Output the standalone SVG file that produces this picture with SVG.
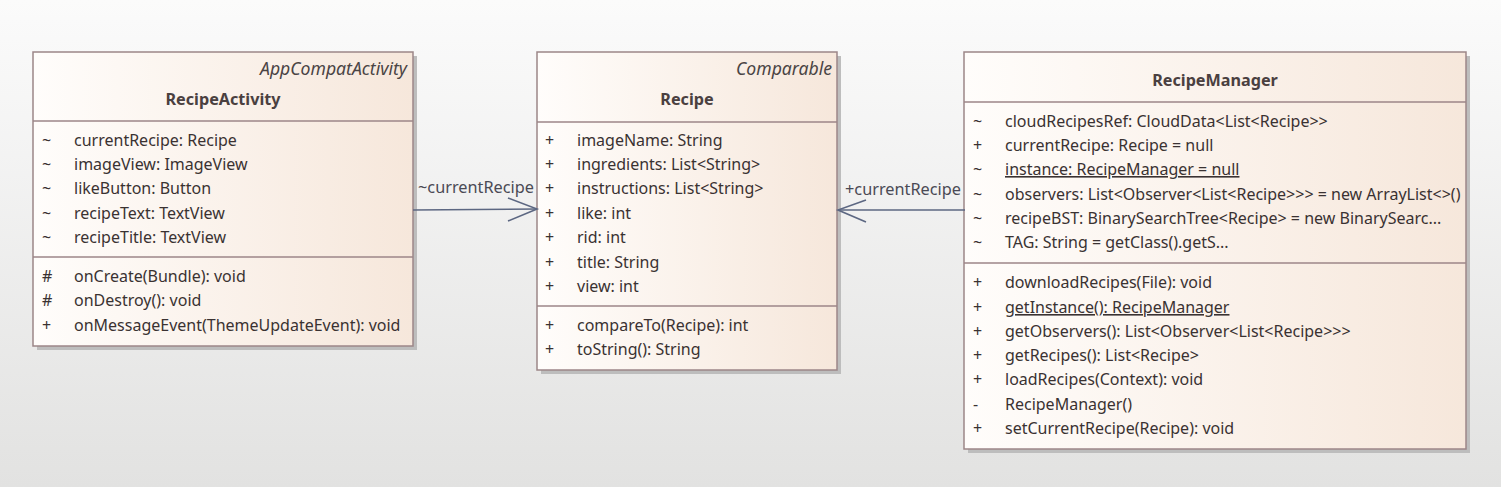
<svg xmlns="http://www.w3.org/2000/svg" width="1501" height="487" viewBox="0 0 1501 487">
<defs>
<linearGradient id="bg" x1="0" y1="0" x2="0" y2="1">
<stop offset="0" stop-color="#fbfbfb"/>
<stop offset="1" stop-color="#e2e2e1"/>
</linearGradient>
<linearGradient id="box" x1="0" y1="0" x2="1" y2="0">
<stop offset="0" stop-color="#fffdfb"/>
<stop offset="1" stop-color="#f6e7db"/>
</linearGradient>
</defs>
<style>
text{font-family:"Noto Sans","Open Sans",sans-serif;font-size:16px;fill:#3a3232}
.ital{font-style:italic;text-anchor:end;fill:#4a4444;font-size:17.6px}
.name{font-weight:bold;text-anchor:middle;fill:#4a4040;font-size:16.2px}
.frame{fill:url(#box);stroke:#9c8688;stroke-width:1.5}
.shadow{fill:#bdbdbd}
.sep{stroke:#9c8688;stroke-width:1.5}
.conn{stroke:#5c6782;stroke-width:1.6;fill:none}
.lbl{fill:#4a4a55;font-size:16.3px}
.u{text-decoration:underline}
</style>
<rect x="0" y="0" width="1501" height="487" fill="url(#bg)"/>

<g id="RecipeActivity">
<rect class="shadow" x="37" y="56" width="380" height="294"/>
<rect class="frame" x="33" y="52" width="380" height="294"/>
<line class="sep" x1="33" y1="121" x2="413" y2="121"/>
<line class="sep" x1="33" y1="257" x2="413" y2="257"/>
<text class="ital" x="407" y="75">AppCompatActivity</text>
<text class="name" x="223" y="105">RecipeActivity</text>
<text x="42" y="146">~</text><text x="74" y="146">currentRecipe: Recipe</text>
<text x="42" y="170">~</text><text x="74" y="170">imageView: ImageView</text>
<text x="42" y="194">~</text><text x="74" y="194">likeButton: Button</text>
<text x="42" y="219">~</text><text x="74" y="219">recipeText: TextView</text>
<text x="42" y="243">~</text><text x="74" y="243">recipeTitle: TextView</text>
<text x="42" y="282">#</text><text x="74" y="282">onCreate(Bundle): void</text>
<text x="42" y="306">#</text><text x="74" y="306">onDestroy(): void</text>
<text x="42" y="331">+</text><text x="74" y="331">onMessageEvent(ThemeUpdateEvent): void</text>
</g>

<g id="Recipe">
<rect class="shadow" x="541" y="56" width="300" height="318"/>
<rect class="frame" x="537" y="52" width="300" height="318"/>
<line class="sep" x1="537" y1="122" x2="837" y2="122"/>
<line class="sep" x1="537" y1="306" x2="837" y2="306"/>
<text class="ital" x="832" y="75">Comparable</text>
<text class="name" x="687" y="105">Recipe</text>
<text x="545" y="146">+</text><text x="577" y="146">imageName: String</text>
<text x="545" y="170">+</text><text x="577" y="170">ingredients: List&lt;String&gt;</text>
<text x="545" y="194">+</text><text x="577" y="194">instructions: List&lt;String&gt;</text>
<text x="545" y="219">+</text><text x="577" y="219">like: int</text>
<text x="545" y="243">+</text><text x="577" y="243">rid: int</text>
<text x="545" y="268">+</text><text x="577" y="268">title: String</text>
<text x="545" y="292">+</text><text x="577" y="292">view: int</text>
<text x="545" y="331">+</text><text x="577" y="331">compareTo(Recipe): int</text>
<text x="545" y="355">+</text><text x="577" y="355">toString(): String</text>
</g>

<g id="RecipeManager">
<rect class="shadow" x="968" y="56" width="502" height="397"/>
<rect class="frame" x="964" y="52" width="502" height="397"/>
<line class="sep" x1="964" y1="102" x2="1466" y2="102"/>
<line class="sep" x1="964" y1="263" x2="1466" y2="263"/>
<text class="name" x="1215" y="86">RecipeManager</text>
<text x="973" y="127">~</text><text x="1005" y="127">cloudRecipesRef: CloudData&lt;List&lt;Recipe&gt;&gt;</text>
<text x="973" y="151">+</text><text x="1005" y="151">currentRecipe: Recipe = null</text>
<text x="973" y="175">~</text><text class="u" x="1005" y="175">instance: RecipeManager = null</text>
<text x="973" y="200">~</text><text x="1005" y="200">observers: List&lt;Observer&lt;List&lt;Recipe&gt;&gt;&gt; = new ArrayList&lt;&gt;()</text>
<text x="973" y="224">~</text><text x="1005" y="224">recipeBST: BinarySearchTree&lt;Recipe&gt; = new BinarySearc...</text>
<text x="973" y="248">~</text><text x="1005" y="248">TAG: String = getClass().getS...</text>
<text x="973" y="288">+</text><text x="1005" y="288">downloadRecipes(File): void</text>
<text x="973" y="313">+</text><text class="u" x="1005" y="313">getInstance(): RecipeManager</text>
<text x="973" y="337">+</text><text x="1005" y="337">getObservers(): List&lt;Observer&lt;List&lt;Recipe&gt;&gt;&gt;</text>
<text x="973" y="361">+</text><text x="1005" y="361">getRecipes(): List&lt;Recipe&gt;</text>
<text x="973" y="385">+</text><text x="1005" y="385">loadRecipes(Context): void</text>
<text x="973" y="410">-</text><text x="1005" y="410">RecipeManager()</text>
<text x="973" y="434">+</text><text x="1005" y="434">setCurrentRecipe(Recipe): void</text>
</g>

<g id="connectors">
<line class="conn" x1="413" y1="210" x2="537" y2="209"/>
<polyline class="conn" points="508,198 537,209 508,221"/>
<text class="lbl" x="418" y="193">~currentRecipe</text>
<line class="conn" x1="965" y1="210" x2="838" y2="210"/>
<polyline class="conn" points="866,200 838,210 866,222"/>
<text class="lbl" x="845" y="195">+currentRecipe</text>
</g>
</svg>
